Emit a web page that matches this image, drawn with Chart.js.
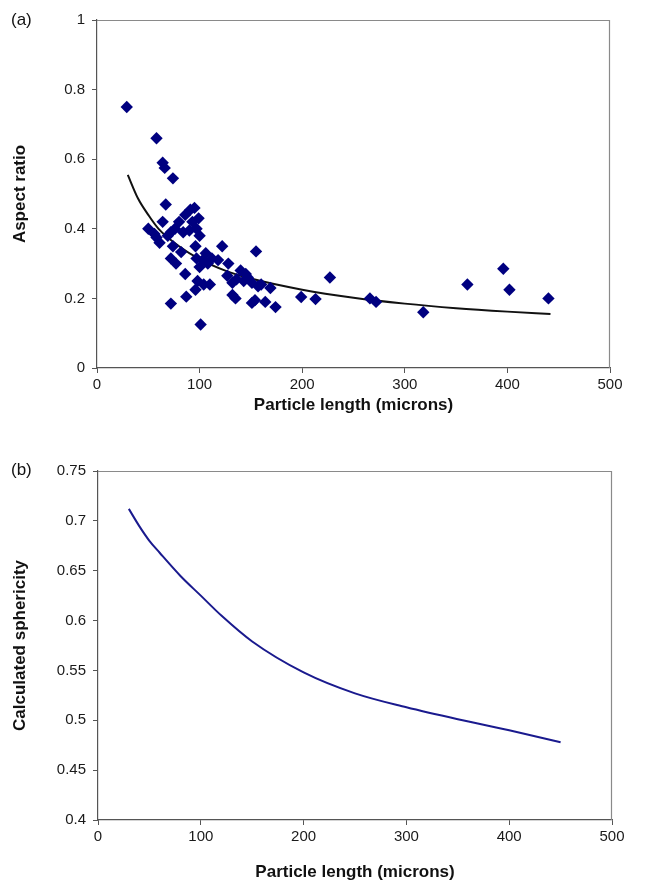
<!DOCTYPE html>
<html>
<head>
<meta charset="utf-8">
<script src="https://cdn.jsdelivr.net/npm/chart.js@4/dist/chart.umd.min.js"></script>
<style>
  body { margin: 0; background: #fff; }
  #wrap { position: relative; width: 661px; height: 886px; }
  .lbl { position: absolute; font-family: "Liberation Sans", Arial, sans-serif; font-size: 17px; color: #111; }
  #cA { position: absolute; left: 0; top: 0; }
  #cB { position: absolute; left: 0; top: 440px; }
</style>
</head>
<body>
<div id="wrap">
  <canvas id="cA" width="661" height="430"></canvas>
  <canvas id="cB" width="661" height="446"></canvas>
  <div class="lbl" style="left:11px;top:10px;">(a)</div>
  <div class="lbl" style="left:11px;top:460px;">(b)</div>
</div>
<script>
// panel (a): measured particles
var lengthA = [29, 58, 64, 66, 74, 67, 50, 58, 56, 64, 72, 76, 69, 74, 72, 77, 82, 86, 72, 87,
  86, 91, 95, 93, 97, 90, 99, 100, 96, 97, 100, 103, 106, 112, 98, 104, 110, 101, 96, 122,
  128, 127, 132, 136, 135, 132, 140, 143, 147, 151, 157, 155, 154, 151, 164, 169, 174, 199, 213, 227,
  266, 272, 318, 361, 396, 402, 440, 61, 80, 84, 108, 118, 145, 160];
var aspectA = [0.75, 0.66, 0.59, 0.575, 0.545, 0.47, 0.40, 0.375, 0.385, 0.42, 0.39, 0.40, 0.38, 0.35, 0.315, 0.30, 0.333, 0.27, 0.185, 0.205,
  0.44, 0.455, 0.46, 0.42, 0.40, 0.395, 0.43, 0.38, 0.35, 0.315, 0.29, 0.31, 0.33, 0.315, 0.25, 0.24, 0.24, 0.125, 0.225, 0.35,
  0.30, 0.265, 0.245, 0.255, 0.20, 0.21, 0.28, 0.25, 0.26, 0.245, 0.235, 0.335, 0.195, 0.187, 0.19, 0.23, 0.175, 0.204, 0.198, 0.26,
  0.20, 0.19, 0.16, 0.24, 0.285, 0.225, 0.20, 0.36, 0.42, 0.39, 0.30, 0.31, 0.27, 0.24];

// trend line
var trendX = [30, 40, 50, 60, 80, 100, 125, 150, 200, 250, 300, 350, 400, 442];
var trendY = [0.555, 0.487, 0.44, 0.40, 0.35, 0.313, 0.28, 0.257, 0.225, 0.202, 0.185, 0.172, 0.162, 0.155];

// panel (b): calculated sphericity
var lengthB = [30, 40, 50, 60, 80, 100, 120, 150, 200, 250, 300, 350, 400, 450];
var spherB = [0.712, 0.695, 0.680, 0.668, 0.645, 0.625, 0.605, 0.579, 0.548, 0.527, 0.513, 0.501, 0.490, 0.478];

var ticksA = [0, 0.2, 0.4, 0.6, 0.8, 1];
var ticksB = [0.4, 0.45, 0.5, 0.55, 0.6, 0.65, 0.7, 0.75];

var FONT = '"Liberation Sans", Arial, sans-serif';
Chart.defaults.font.family = FONT;
Chart.defaults.color = '#1a1a1a';
Chart.defaults.animation = false;

function pts(xs, ys) {
  var out = [];
  for (var i = 0; i < xs.length; i++) out.push({x: xs[i], y: ys[i]});
  return out;
}

// grey frame round the plot area, like excel
var frame = {
  id: 'frame',
  afterDraw: function(chart) {
    var a = chart.chartArea, ctx = chart.ctx;
    ctx.save();
    ctx.strokeStyle = '#8a8a8a';
    ctx.lineWidth = 1.2;
    ctx.beginPath();
    ctx.moveTo(a.left, a.top + 0.5);
    ctx.lineTo(a.right - 0.5, a.top + 0.5);
    ctx.lineTo(a.right - 0.5, a.bottom);
    ctx.stroke();
    ctx.restore();
  }
};

function xScale(axisH, titlePad) {
  return {
    type: 'linear', min: 0, max: 500,
    afterFit: function(s) { s.height = axisH; },
    ticks: { stepSize: 100, font: {size: 15}, padding: 3, maxRotation: 0 },
    grid: { drawOnChartArea: false, drawTicks: true, tickLength: 5, color: '#555' },
    border: { color: '#555', width: 1.2 },
    title: { display: true, text: 'Particle length (microns)', font: {size: 17, weight: 'bold'}, color: '#111',
      padding: {top: 0, bottom: titlePad} }
  };
}

function yScale(min, max, tickVals, title, w) {
  return {
    type: 'linear', min: min, max: max,
    afterFit: function(s) { s.width = w; },
    afterBuildTicks: function(s) { s.ticks = tickVals.map(function(v) { return {value: v}; }); },
    ticks: { font: {size: 15}, padding: 7, callback: function(v) { return +v.toFixed(2); } },
    grid: { drawOnChartArea: false, drawTicks: true, tickLength: 5, color: '#555' },
    border: { color: '#555', width: 1.2 },
    title: { display: true, text: title, font: {size: 17, weight: 'bold'}, color: '#111',
      padding: {top: 10, bottom: 0} }
  };
}

new Chart(document.getElementById('cA'), {
  type: 'scatter',
  data: {
    datasets: [{
      label: 'Aspect ratio',
      data: pts(lengthA, aspectA),
      pointStyle: 'rectRot',
      pointRadius: 6.2,
      backgroundColor: '#000080',
      borderColor: '#000080',
      borderWidth: 0
    }, {
      label: 'Power fit',
      type: 'line',
      data: pts(trendX, trendY),
      borderColor: '#111',
      borderWidth: 2,
      pointRadius: 0,
      cubicInterpolationMode: 'monotone',
      fill: false
    }]
  },
  options: {
    responsive: false,
    layout: { padding: {left: 0, top: 20, right: 51, bottom: 0} },
    plugins: { legend: {display: false}, tooltip: {enabled: false} },
    scales: {
      x: xScale(62, 14),
      y: yScale(0, 1, ticksA, 'Aspect ratio', 97)
    }
  },
  plugins: [frame]
});

new Chart(document.getElementById('cB'), {
  type: 'line',
  data: {
    datasets: [{
      label: 'Calculated sphericity',
      data: pts(lengthB, spherB),
      borderColor: '#1a1a8e',
      borderWidth: 2,
      pointRadius: 0,
      cubicInterpolationMode: 'monotone',
      fill: false
    }]
  },
  options: {
    responsive: false,
    layout: { padding: {left: 0, top: 31, right: 49, bottom: 0} },
    plugins: { legend: {display: false}, tooltip: {enabled: false} },
    scales: {
      x: xScale(66, 3),
      y: yScale(0.4, 0.75, ticksB, 'Calculated sphericity', 98)
    }
  },
  plugins: [frame]
});
</script>
</body>
</html>
